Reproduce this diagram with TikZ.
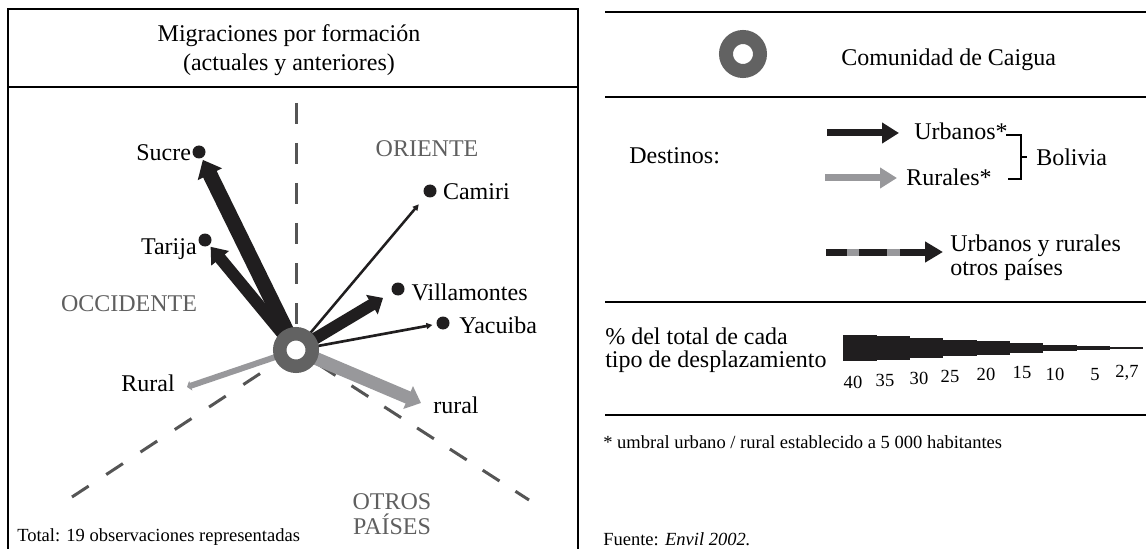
\documentclass[tikz,border=0pt]{standalone}
\usepackage{fontspec}
\setmainfont{Liberation Serif}
\usepackage{xcolor}
\definecolor{cgblack}{RGB}{32,30,31}
\definecolor{cggray}{RGB}{152,152,155}
\definecolor{cgring}{RGB}{98,98,98}
\definecolor{cgdash}{RGB}{85,85,85}
\definecolor{cgzone}{RGB}{95,95,95}
\usetikzlibrary{arrows.meta,positioning,backgrounds}
\newcommand{\cgbig}{\fontsize{18}{21.75}\selectfont}
\newcommand{\cgsmall}{\fontsize{13.9}{16.5}\selectfont}

\begin{document}
\begin{tikzpicture}[x=0.75pt,y=-0.75pt,
  txt/.style={inner sep=0pt,font=\cgbig},
  note/.style={inner sep=0pt,font=\cgsmall},
  lbl/.style={txt,text height=12.5pt,text depth=0pt},
  zona/.style={lbl,text=cgzone},
  dest/.style={circle,fill=cgblack,minimum size=9.75pt,inner sep=0pt},
  ringnode/.style={circle,draw=cgring,fill=white,inner sep=0pt},
  eje/.style={cgdash,line width=2.25pt},
  flow/.style={cgblack,line width=#1},
  rflow/.style={cggray,line width=#1},
  raya/.style={line width=2pt}
]
  \useasboundingbox (0,0) rectangle (1146,549);

  % Left panel frame
  \draw[line width=1pt] (8,549) -- (8,9) -- (578,9) -- (578,549);
  \draw[raya] (8,87) -- (578,87);
  \node[txt,align=center] (title) at (289,49.7)
    {Migraciones por formación\\(actuales y anteriores)};

  % Community and destinations
  \node[ringnode,line width=10.125pt,minimum size=24.375pt] (caigua) at (296,350) {};
  \node[dest] (sucre) at (199,152) {};
  \node[dest] (tarija) at (205,240) {};
  \node[dest] (camiri) at (430,191) {};
  \node[dest] (villamontes) at (398,289) {};
  \node[dest] (yacuiba) at (443,323) {};
  \coordinate (rurOc) at (187,387);
  \coordinate (rurOt) at (421,403);

  \node[lbl,left=0.75pt of sucre] (lsucre) {Sucre};
  \node[lbl,left=1pt of tarija,yshift=-4.5pt] (ltarija) {Tarija};
  \node[lbl,right=4.5pt of camiri] (lcamiri) {Camiri};
  \node[lbl,right=5pt of villamontes,yshift=-2pt] (lvillamontes) {Villamontes};
  \node[lbl,right=7pt of yacuiba,yshift=-1.5pt] (lyacuiba) {Yacuiba};
  \node[lbl,anchor=east] (lrurOc) at (175,383) {Rural};
  \node[lbl,anchor=west] (lrurOt) at (433,405) {rural};

  % Zones
  \node[zona] (oriente) at (427,148) {ORIENTE};
  \node[zona] (occidente) at (129,303) {OCCIDENTE};
  \node[txt,text=cgzone,align=center,font=\fontsize{18}{18.75}\selectfont] (otros)
    at (392,514.4) {OTROS\\PAÍSES};
  \node[note,anchor=base west] (total) at (17,541)
    {Total: 19 observaciones representadas};

  \begin{scope}[on background layer]
    % Sector limits
    \draw[eje,dash pattern=on 15.75pt off 14.25pt] (296,103) -- (caigua.center);
    \draw[eje,dash pattern=on 15pt off 15.75pt,dash phase=29.25pt] (caigua.center) -- (72,497);
    \draw[eje,dash pattern=on 15pt off 14.25pt,dash phase=9pt] (caigua.center) -- (529,500);
    % Flows
    \draw[flow=11.25pt,-{Triangle[length=12pt,width=19.5pt]},shorten >=1.5pt]
      (caigua.center) -- (sucre);
    \draw[flow=9pt,-{Triangle[length=11.25pt,width=16.5pt]},shorten >=1.5pt]
      (caigua.center) -- (tarija);
    \draw[flow=1.9pt,-{Triangle[length=4.5pt,width=4.5pt]},shorten >=8pt]
      (caigua.center) -- (camiri);
    \draw[flow=9pt,-{Triangle[length=9.75pt,width=16.5pt]},shorten >=8pt]
      (caigua.center) -- (villamontes);
    \draw[flow=2pt,-{Triangle[length=4.5pt,width=4.5pt]},shorten >=3pt]
      (caigua.center) -- (yacuiba);
    \draw[rflow=4.5pt,-{Triangle[length=3pt,width=7.5pt]}] (caigua.center) -- (rurOc);
    \draw[rflow=9.75pt,-{Triangle[length=10.5pt,width=18pt]}] (caigua.center) -- (rurOt);
  \end{scope}

  % Legend
  \draw[raya] (605,12) -- (1146,12);
  \draw[raya] (605,97) -- (1146,97);
  \draw[raya] (605,302) -- (1146,302);
  \draw[raya] (605,415) -- (1146,415);

  \node[ringnode,line width=10.5pt,minimum size=25.5pt] (legring) at (743,54) {};
  \node[txt,anchor=base west] (lcomunidad) at (841,66) {Comunidad de Caigua};

  \node[txt,anchor=base west] (destinos) at (629,164) {Destinos:};
  \draw[flow=5.25pt,-{Triangle[length=12.75pt,width=15pt]}] (827,133) -- (899,133);
  \node[txt,anchor=base west] (urb) at (914,140) {Urbanos*};
  \draw[rflow=5.25pt,-{Triangle[length=12.75pt,width=15pt]}] (825,178) -- (897,178);
  \node[txt,anchor=base west] (rur) at (906,186) {Rurales*};
  \draw[line width=0.9pt] (1006,135) -- (1021,135) -- (1021,179) -- (1008,179);
  \draw[line width=0.9pt] (1021,157) -- (1027,157);
  \node[txt,anchor=base west] (bolivia) at (1036,166) {Bolivia};

  \draw[flow=5.25pt,-{Triangle[length=13.5pt,width=15pt]}] (826,252) -- (943,252);
  \foreach \a/\b in {847/859,887/900}
    \draw[rflow=5.25pt] (\a,252) -- (\b,252);
  \node[txt,anchor=west,align=left,font=\fontsize{18}{18}\selectfont] (otrosleg)
    at (950,257.4) {Urbanos y rurales\\otros países};

  % Percentages
  \node[txt,anchor=west,align=left,font=\fontsize{18}{17}\selectfont] (pcttitle)
    at (605,350) {\% del total de cada\\tipo de desplazamiento};
  \foreach \v/\t/\lx/\ly [count=\i from 0] in {40/40/853/388.5,35/35/885/386.5,
      30/30/919/384.5,25/25/950/382.5,20/20/986/380.5,15/15/1022/378.5,
      10/10/1055/380.5,5/5/1095/380.5,2.7/{2,7}/1127/377.5}{
    \fill[cgblack] ({843+33.33*\i},{348-0.3333*\v}) rectangle ({876.6+33.33*\i},{348+0.3333*\v});
    \node[note,anchor=base] (pct\i) at (\lx,\ly) {\t};
  }

  % Notes
  \node[note,anchor=base west] (umbral) at (603,448)
    {* umbral urbano / rural establecido a 5 000 habitantes};
  \node[note,anchor=base west] (fuente) at (603,545) {Fuente: \textit{Envil 2002.}};
\end{tikzpicture}
\end{document}
